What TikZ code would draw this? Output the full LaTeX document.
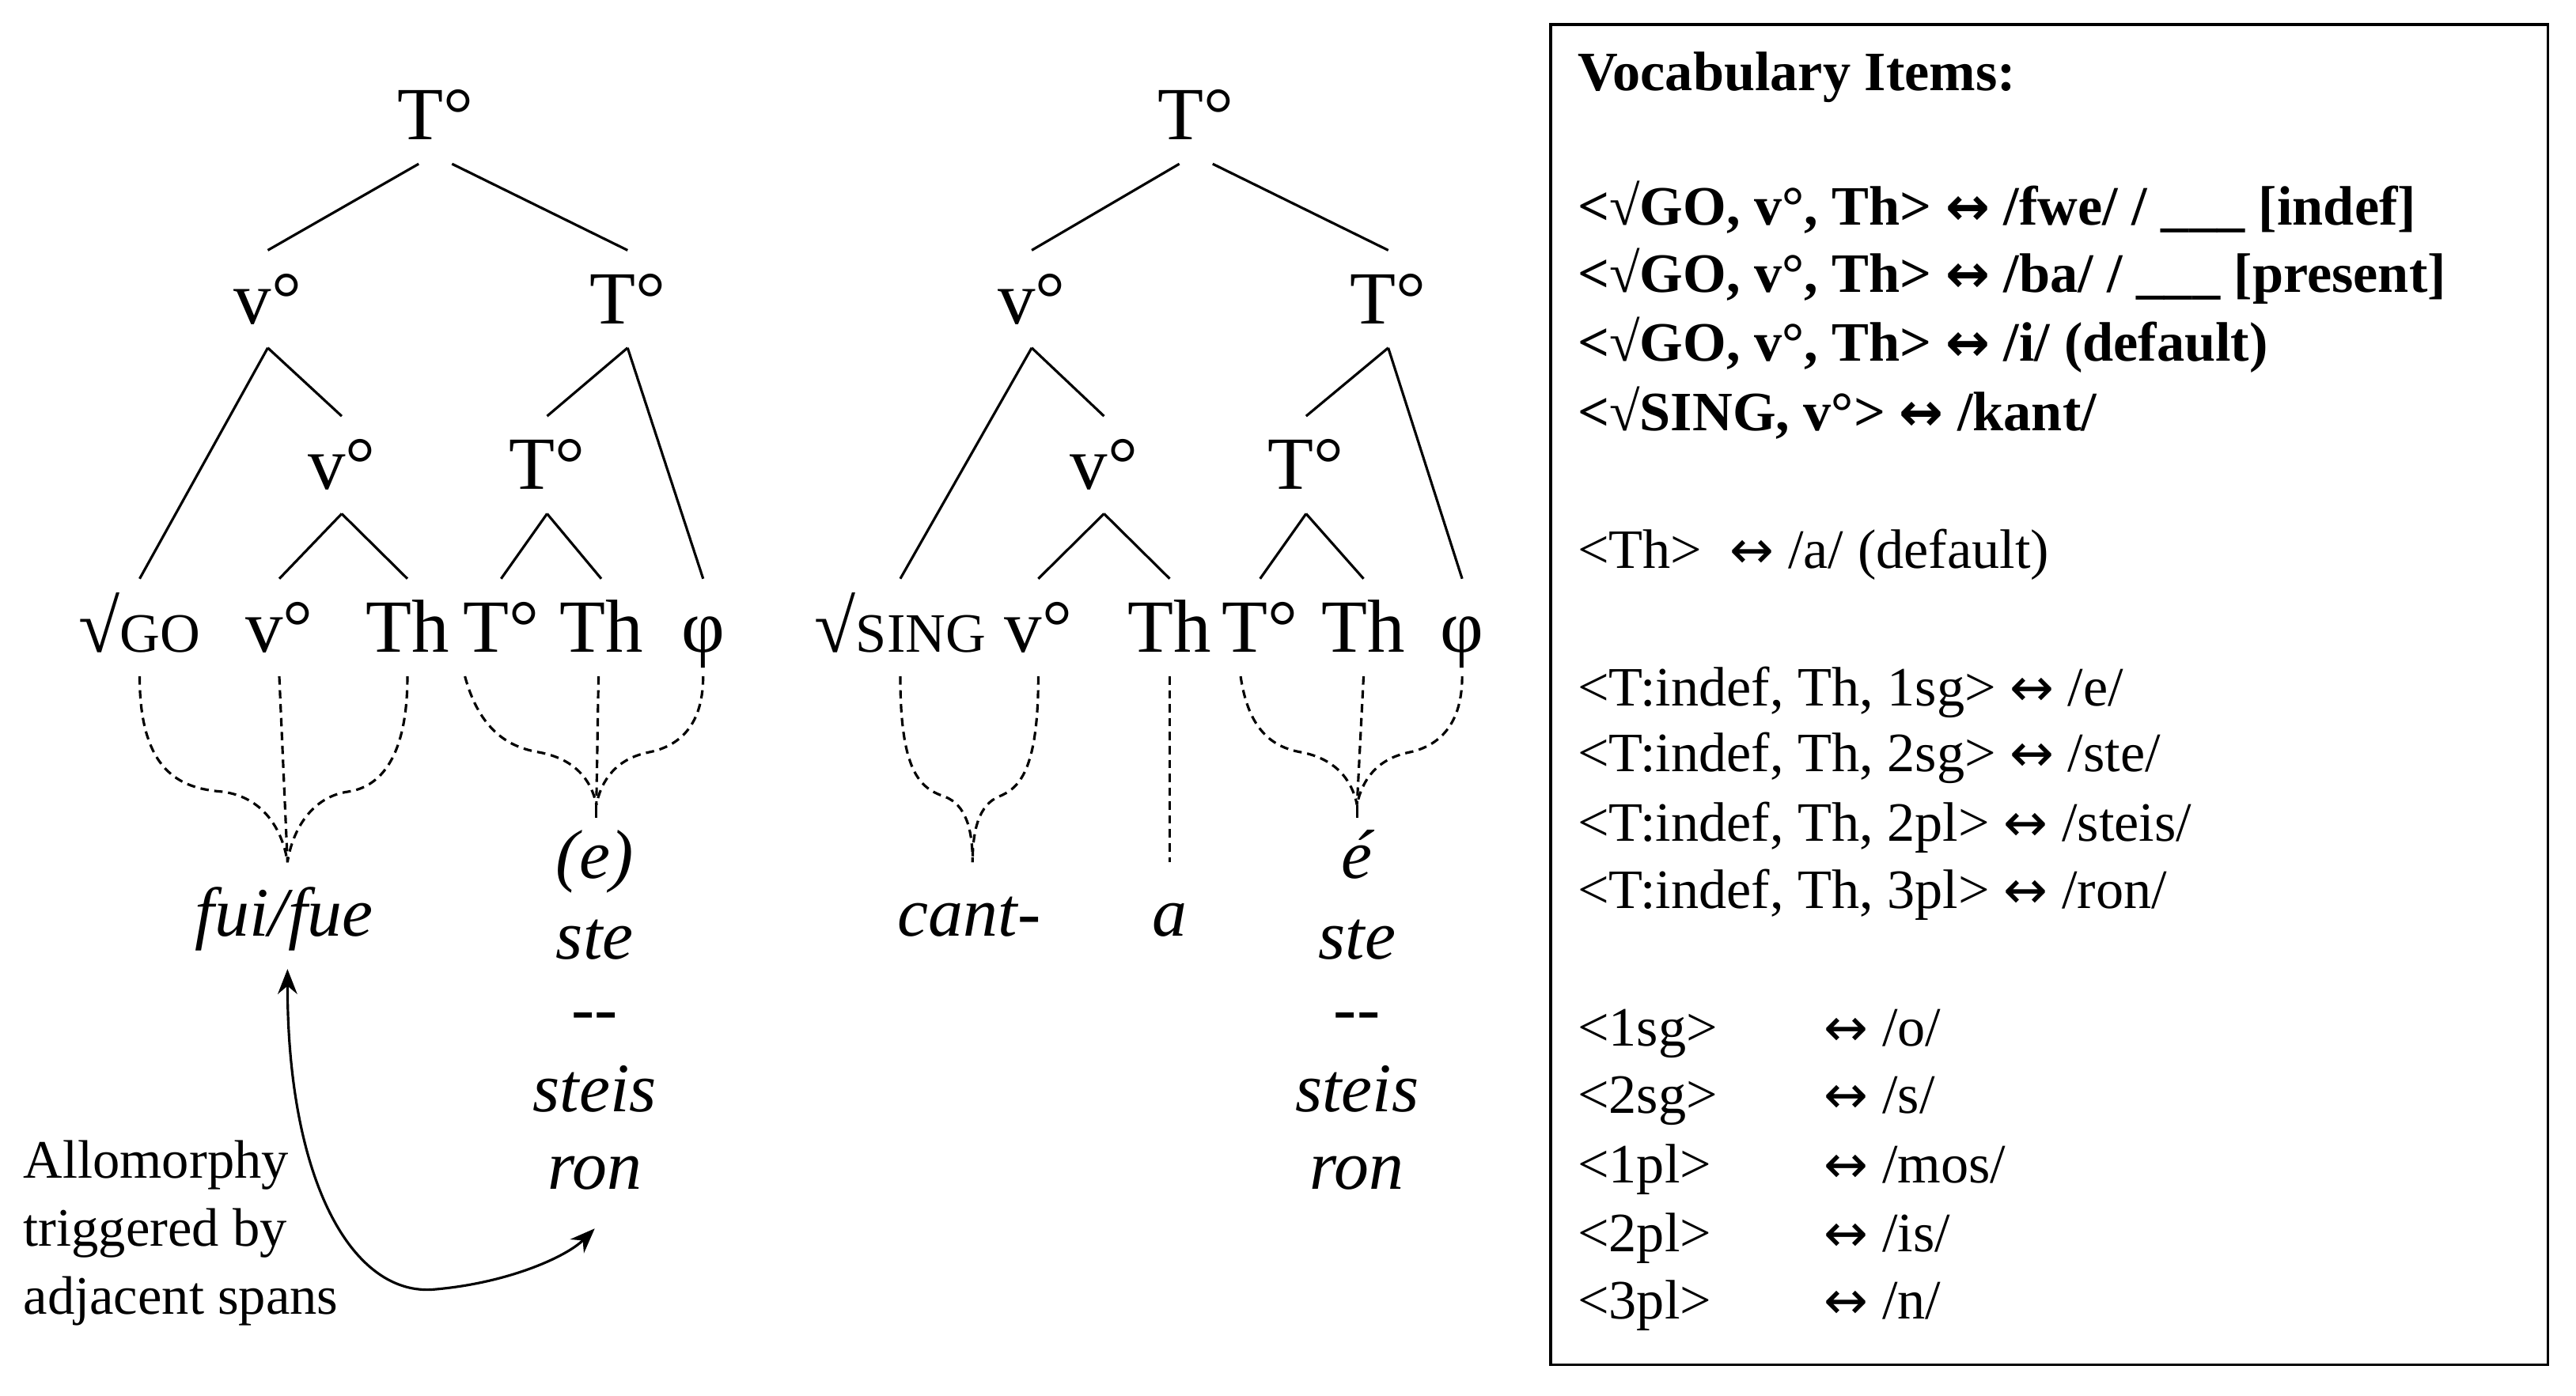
\documentclass[tikz,border=0pt]{standalone}
\usepackage{fontspec}
\setmainfont{Liberation Serif}
\newfontfamily\arrfont{DejaVu Sans}
\usetikzlibrary{arrows.meta}
\begin{document}
\begin{tikzpicture}[x=0.020765cm,y=-0.020765cm,
 tn/.style={anchor=base,font=\fontsize{27}{30}\selectfont,text height=0.62cm,text depth=0pt,inner xsep=0pt,inner ysep=0.3cm},
 wd/.style={anchor=base,font=\fontsize{25}{30}\selectfont\itshape,inner sep=0pt},
 vi/.style={anchor=base west,font=\fontsize{20}{24}\selectfont,inner sep=0pt},
 dl/.style={dash pattern=on 3pt off 2pt,line width=0.9pt},
 tl/.style={line width=0.9pt}]
\useasboundingbox (0,0) rectangle (1568,849.5);
\newcommand{\sm}[1]{{\fontsize{20}{24}\selectfont #1}}
\newcommand{\lr}{{\arrfont\fontsize{19}{24}\selectfont ↔}}
% ---- tree 1
\node[tn] (a0) at (265,85) {T°};
\node[tn] (a1) at (163,197) {v°};
\node[tn] (a2) at (382,197) {T°};
\node[tn] (a3) at (208,298) {v°};
\node[tn] (a4) at (333,298) {T°};
\node[tn] (a5) at (85,397) {√\sm{GO}};
\node[tn] (a6) at (170,397) {v°};
\node[tn] (a7) at (248,397) {Th};
\node[tn] (a8) at (305,397) {T°};
\node[tn] (a9) at (366,397) {Th};
\node[tn] (a10) at (428,397) {φ};
\draw[tl] ([xshift=-6]a0.south) -- (a1.north);
\draw[tl] ([xshift=6]a0.south) -- (a2.north);
\draw[tl] (a1.south) -- (a5.north);
\draw[tl] (a1.south) -- (a3.north);
\draw[tl] (a3.south) -- (a6.north);
\draw[tl] (a3.south) -- (a7.north);
\draw[tl] (a2.south) -- (a4.north);
\draw[tl] (a2.south) -- (a10.north);
\draw[tl] (a4.south) -- (a8.north);
\draw[tl] (a4.south) -- (a9.north);
\coordinate (c1) at (175,525);
\coordinate (c2) at (363,490);
\draw[dl] (a5.south) .. controls (85,470) and (110,480) .. (135,482) .. controls (160,485) and (172,505) .. (c1);
\draw[dl] (a6.south) -- (c1);
\draw[dl] (a7.south) .. controls (248,470) and (225,480) .. (212,482) .. controls (190,485) and (178,505) .. (c1);
\draw[dl] ([xshift=-13]a8.south) .. controls (292,445) and (310,455) .. (328,458) .. controls (350,462) and (360,475) .. (c2);
\draw[dl] ([xshift=-1]a9.south) -- (c2);
\draw[dl] (a10.south) .. controls (428,445) and (410,455) .. (395,458) .. controls (375,462) and (366,475) .. (c2);
\coordinate (c2e) at (363,498);
\draw[tl] (c2) -- (c2e);
\node[wd] (w1) at (173,570) {fui/fue};
\node[wd] (w2) at (362,535) {(e)};
\node[wd] (w3) at (362,584) {ste};
\node[wd] (w4) at (362,628) {-{}-};
\node[wd] (w5) at (362,677) {steis};
\node[wd] (w6) at (362,724) {ron};
\coordinate (ar1) at (175,590);
\coordinate (ar2) at (362,748);
\draw[tl,{Stealth[length=9pt,width=7pt]}-{Stealth[length=9pt,width=7pt]}] (ar1) .. controls (175,720) and (215,790) .. (265,785) .. controls (310,781) and (345,765) .. (ar2);
\node[anchor=north west,align=left,font=\fontsize{19.5}{24.5}\selectfont,inner sep=0pt] (al) at (14,694) {Allomorphy\\triggered by\\adjacent spans};
% ---- tree 2
\node[tn] (b0) at (728,85) {T°};
\node[tn] (b1) at (628,197) {v°};
\node[tn] (b2) at (845,197) {T°};
\node[tn] (b3) at (672,298) {v°};
\node[tn] (b4) at (795,298) {T°};
\node[tn] (b5) at (548,397) {√\sm{SING}};
\node[tn] (b6) at (632,397) {v°};
\node[tn] (b7) at (712,397) {Th};
\node[tn] (b8) at (767,397) {T°};
\node[tn] (b9) at (830,397) {Th};
\node[tn] (b10) at (890,397) {φ};
\draw[tl] ([xshift=-6]b0.south) -- (b1.north);
\draw[tl] ([xshift=6]b0.south) -- (b2.north);
\draw[tl] (b1.south) -- (b5.north);
\draw[tl] (b1.south) -- (b3.north);
\draw[tl] (b3.south) -- (b6.north);
\draw[tl] (b3.south) -- (b7.north);
\draw[tl] (b2.south) -- (b4.north);
\draw[tl] (b2.south) -- (b10.north);
\draw[tl] (b4.south) -- (b8.north);
\draw[tl] (b4.south) -- (b9.north);
\coordinate (d1) at (592,525);
\coordinate (d2) at (712,525);
\coordinate (d3) at (826,490);
\draw[dl] (b5.south) .. controls (548,470) and (560,480) .. (575,485) .. controls (588,490) and (592,505) .. (d1);
\draw[dl] (b6.south) .. controls (632,470) and (620,480) .. (608,485) .. controls (596,490) and (592,505) .. (d1);
\draw[dl] (b7.south) -- (d2);
\draw[dl] ([xshift=-7]b8.south) .. controls (760,445) and (775,455) .. (792,458) .. controls (813,462) and (823,475) .. (d3);
\draw[dl] (b9.south) -- (d3);
\draw[dl] (b10.south) .. controls (890,445) and (872,455) .. (858,458) .. controls (838,462) and (829,475) .. (d3);
\coordinate (d3e) at (826,498);
\draw[tl] (d3) -- (d3e);
\node[wd] (x1) at (590,570) {cant-};
\node[wd] (x2) at (712,570) {a};
\node[wd] (x3) at (826,535) {é};
\node[wd] (x4) at (826,584) {ste};
\node[wd] (x5) at (826,628) {-{}-};
\node[wd] (x6) at (826,677) {steis};
\node[wd] (x7) at (826,724) {ron};
% ---- box
\node[draw,line width=1pt,minimum width=607*0.020765cm,minimum height=816*0.020765cm,anchor=north west,inner sep=0pt] (box) at (943,14) {};
\node[vi,font=\fontsize{20}{24}\selectfont\bfseries] (v0) at (960,55) {Vocabulary Items:};
\node[vi,font=\fontsize{20}{24}\selectfont\bfseries] (v1) at (960,137) {<√\sm{GO}, v°, Th> \lr\ /fwe/ / \_\_\_ [indef]};
\node[vi,font=\fontsize{20}{24}\selectfont\bfseries] (v2) at (960,178) {<√\sm{GO}, v°, Th> \lr\ /ba/ / \_\_\_ [present]};
\node[vi,font=\fontsize{20}{24}\selectfont\bfseries] (v3) at (960,220) {<√\sm{GO}, v°, Th> \lr\ /i/ (default)};
\node[vi,font=\fontsize{20}{24}\selectfont\bfseries] (v4) at (960,262) {<√\sm{SING}, v°> \lr\ /kant/};
\node[vi] (v5) at (960,346) {<Th> \ \lr\ /a/ (default)};
\node[vi] (v6) at (960,430) {<T:indef, Th, 1sg> \lr\ /e/};
\node[vi] (v7) at (960,470) {<T:indef, Th, 2sg> \lr\ /ste/};
\node[vi] (v8) at (960,512) {<T:indef, Th, 2pl> \lr\ /steis/};
\node[vi] (v9) at (960,553) {<T:indef, Th, 3pl> \lr\ /ron/};
\node[vi] (p1) at (960,637) {<1sg>};
\node[vi] (p2) at (960,678) {<2sg>};
\node[vi] (p3) at (960,720) {<1pl>};
\node[vi] (p4) at (960,762) {<2pl>};
\node[vi] (p5) at (960,803) {<3pl>};
\node[vi] (q1) at (1110,637) {\lr\ /o/};
\node[vi] (q2) at (1110,678) {\lr\ /s/};
\node[vi] (q3) at (1110,720) {\lr\ /mos/};
\node[vi] (q4) at (1110,762) {\lr\ /is/};
\node[vi] (q5) at (1110,803) {\lr\ /n/};
\end{tikzpicture}
\end{document}
